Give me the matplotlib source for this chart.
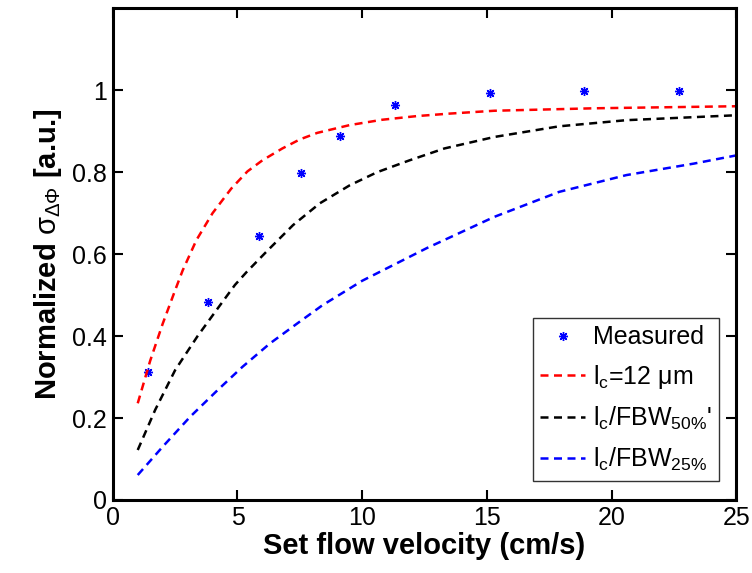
import matplotlib
matplotlib.use("Agg")
import matplotlib.pyplot as plt

# Datos medidos
meas_x = [1.41, 3.82, 5.86, 7.53, 9.1, 11.3, 15.13, 18.9, 22.7]
meas_y = [0.313, 0.484, 0.645, 0.797, 0.888, 0.963, 0.993, 0.998, 0.998]

# Curvas
red_x = [1.0, 1.5, 2.0, 2.5, 2.8, 3.35, 4.0, 4.75, 5.4, 6.0, 6.8, 7.5, 8.2, 9.5, 10.8, 12.2,
         13.5, 15.3, 19.3, 25.0]
red_y = [0.236, 0.34, 0.43, 0.512, 0.56, 0.634, 0.70, 0.76, 0.802, 0.829, 0.858, 0.88, 0.896,
         0.915, 0.928, 0.937, 0.943, 0.95, 0.956, 0.961]

black_x = [1.0, 1.7, 2.5, 3.4, 4.2, 4.9, 5.36, 6.16, 7.23, 8.3, 9.5, 10.6, 11.9, 13.3, 15.3,
           17.9, 20.6, 25.0]
black_y = [0.122, 0.22, 0.317, 0.40, 0.467, 0.525, 0.556, 0.606, 0.671, 0.724, 0.768, 0.80,
           0.829, 0.858, 0.886, 0.912, 0.927, 0.939]

blue_x = [1.0, 2.0, 3.1, 4.2, 5.2, 6.3, 7.4, 8.4, 10.0, 12.6, 15.3, 17.9, 20.6, 23.3, 25.0]
blue_y = [0.061, 0.13, 0.203, 0.268, 0.325, 0.382, 0.431, 0.475, 0.535, 0.615, 0.691, 0.752,
          0.793, 0.821, 0.841]

labels = ["Measured", r"l$_\mathregular{c}$=12 $\mathregular{\mu}$m",
          r"l$_\mathregular{c}$/FBW$_\mathregular{50\%}$'", r"l$_\mathregular{c}$/FBW$_\mathregular{25\%}$"]
xticks = [0, 5, 10, 15, 20, 25]
yticks = [0, 0.2, 0.4, 0.6, 0.8, 1]

plt.rcParams['font.family'] = 'Liberation Sans'
plt.rcParams['mathtext.fontset'] = 'custom'
plt.rcParams['mathtext.rm'] = 'Liberation Sans'
plt.rcParams['mathtext.it'] = 'Liberation Sans'

fig = plt.figure(figsize=(7.52, 5.73), dpi=100)
ax = fig.add_axes([0.150, 0.1274, 0.829, 0.8581])

ax.plot(meas_x, meas_y, linestyle='none', marker=(8, 2, 0), markersize=6.5, color='blue',
        markeredgewidth=1.0, label=labels[0])
dash = (3.2, 2.2)
ax.plot(red_x, red_y, color='red', linewidth=1.8, dashes=dash, label=labels[1])
ax.plot(black_x, black_y, color='black', linewidth=1.8, dashes=dash, label=labels[2])
ax.plot(blue_x, blue_y, color='blue', linewidth=1.8, dashes=dash, label=labels[3])

ax.set_xlim(0, 25)
ax.set_ylim(0, 1.2)
ax.set_xticks(xticks)
ax.set_yticks(yticks)
ax.set_yticklabels(['0', '0.2', '0.4', '0.6', '0.8', '1'])
ax.tick_params(direction='in', length=7, width=1.5, labelsize=18, top=True, right=True, pad=4)
for s in ax.spines.values():
    s.set_linewidth(2.2)

ax.set_xlabel("Set flow velocity (cm/s)", fontsize=21, fontweight='bold', labelpad=2)
ax.set_ylabel(r"Normalized $\mathrm{\sigma_{\Delta\Phi}}$ [a.u.]", fontsize=21,
              fontweight='bold', labelpad=6)

leg = ax.legend(loc='lower right', fontsize=18, frameon=True, fancybox=False,
                edgecolor='black', handlelength=1.8, handletextpad=0.3, borderpad=0.3,
                labelspacing=0.55, bbox_to_anchor=(0.993, 0.014))
leg.get_frame().set_linewidth(1.0)

plt.savefig("out.png", dpi=100)
